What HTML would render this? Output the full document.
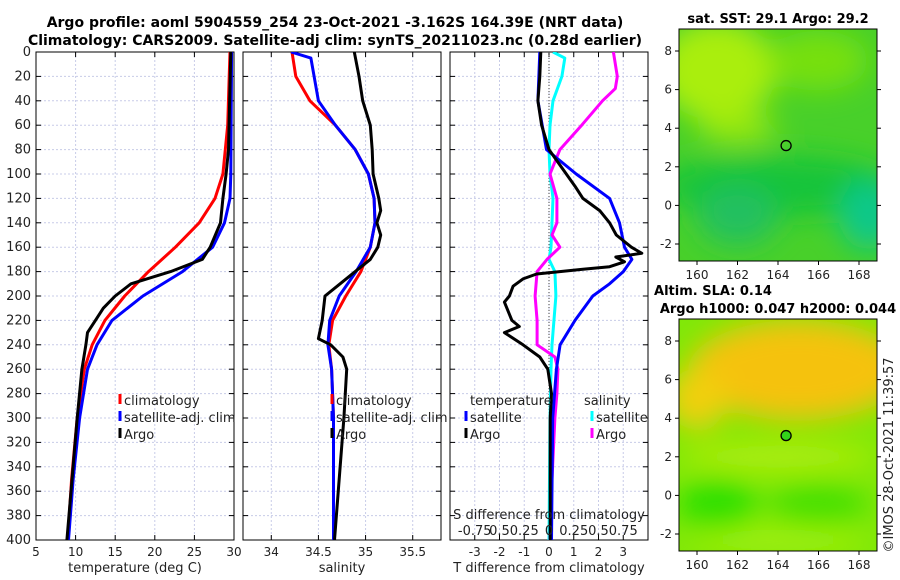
<!DOCTYPE html>
<html><head><meta charset="utf-8"><style>
body{margin:0;background:#fff;}
svg{display:block;font-family:"DejaVu Sans","Liberation Sans",sans-serif;}
</style></head><body>
<svg id="fig" width="900" height="580" viewBox="0 0 900 580">
<defs>
<filter id="blur" x="-50%" y="-50%" width="200%" height="200%"><feGaussianBlur stdDeviation="14"/></filter>
<clipPath id="c1"><rect x="36" y="52" width="198" height="488"/></clipPath>
<clipPath id="c2"><rect x="243" y="52" width="198" height="488"/></clipPath>
<clipPath id="c3"><rect x="450" y="52" width="198" height="488"/></clipPath>
<clipPath id="m1"><rect x="679" y="29" width="198" height="232"/></clipPath>
<clipPath id="m2"><rect x="679" y="319" width="198" height="232"/></clipPath>
</defs>
<rect width="900" height="580" fill="#fff"/>
<text x="335" y="27" text-anchor="middle" font-size="14" font-weight="bold">Argo profile: aoml 5904559_254 23-Oct-2021 -3.162S 164.39E (NRT data)</text>
<text x="335" y="45" text-anchor="middle" font-size="14" font-weight="bold">Climatology: CARS2009. Satellite-adj clim: synTS_20211023.nc (0.28d earlier)</text>
<g id="panels"></g>
<g id="maps"></g>
<text transform="translate(893,455) rotate(-90)" text-anchor="middle" font-size="13" fill="#222">©IMOS 28-Oct-2021 11:39:57</text>
</svg>
<script>
// depth levels (m)
const depthTicks=[0,20,40,60,80,100,120,140,160,180,200,220,240,260,280,300,320,340,360,380,400];
// temperature panel
const tTicks=[5,10,15,20,25,30];
const climTD=[0,20,60,100,120,140,160,180,200,220,240,260,300,350,400];
const climT=[29.5,29.4,29.2,28.6,27.6,25.6,22.6,19.2,16.2,13.7,12.1,11.1,10.2,9.5,9.0];
const satTD=[0,100,120,140,160,180,200,220,240,260,300,350,400];
const satT=[29.7,29.6,29.5,28.8,27.3,23.5,18.5,14.6,12.7,11.5,10.5,9.7,9.1];
const argoTD=[0,80,100,120,140,160,170,180,190,200,210,220,230,240,260,300,400];
const argoT=[29.6,29.3,29.0,28.6,28.3,27.0,26.0,22.0,17.0,15.0,13.5,12.5,11.5,11.3,10.8,10.2,8.9];
// salinity panel
const sTicks=[34,34.5,35,35.5];
const climSD=[0,20,40,60,80,100,120,140,160,180,200,220,240,260,300,400];
const climS=[34.22,34.26,34.41,34.68,34.89,35.03,35.09,35.10,35.05,34.95,34.79,34.65,34.61,34.64,34.66,34.66];
const satSD=[0,5,40,60,80,100,120,140,160,180,200,220,240,260,300,400];
const satS=[34.21,34.42,34.50,34.68,34.89,35.03,35.09,35.10,35.05,34.90,34.72,34.62,34.60,34.64,34.66,34.66];
const argoSD=[0,20,40,60,80,100,120,130,140,150,160,170,180,190,200,220,235,240,250,260,300,350,400];
const argoS=[34.88,34.93,34.97,35.05,35.07,35.08,35.14,35.16,35.12,35.16,35.13,35.05,34.89,34.73,34.57,34.54,34.50,34.63,34.76,34.80,34.77,34.72,34.67];
// difference panel
const dTTicks=[-3,-2,-1,0,1,2,3];
const dSTickLabels=["-0.75","0.5","0.25","0","0.25","0.5","0.75"];
const satDTD=[0,40,80,100,120,140,160,170,180,190,200,220,240,260,300,400];
const satDT=[-0.37,-0.45,-0.1,1.1,2.45,2.85,3.05,3.35,3.0,2.45,1.77,1.05,0.45,0.3,0.15,0.1];
const argoDTD=[0,20,40,60,80,100,110,120,130,140,150,160,165,168,172,176,178,182,186,192,200,205,215,220,225,230,240,250,260,280,300,400];
const argoDT=[-0.33,-0.37,-0.45,-0.3,0,0.7,1.05,1.37,2.05,2.45,2.72,3.33,3.75,2.7,3.05,2.45,1.37,-0.5,-1.05,-1.45,-1.6,-1.8,-1.6,-1.5,-1.2,-1.8,-1.05,-0.37,-0.05,0.1,0.05,0.05];
const satDSD=[0,5,20,40,60,80,100,120,140,160,170,180,200,240,260,300,400];
const satDS=[0.04,0.16,0.13,0.04,0.01,0,0.01,0.04,0.03,0.02,0,0.06,0.07,0.03,0.02,0.01,0];
const argoDSD=[0,20,30,40,60,80,100,120,140,150,160,170,180,200,220,240,250,260,280,300,350,400];
const argoDS=[0.65,0.69,0.67,0.54,0.33,0.11,0.01,0.08,0.08,0.03,0.11,-0.02,-0.12,-0.14,-0.12,-0.12,0.06,0.09,0.08,0.06,0.03,0.01];
// maps
const lonTicks=[160,162,164,166,168];
const latTicks=[-2,0,2,4,6,8];
const floatLon=164.4, floatLat=3.1;

const NS='http://www.w3.org/2000/svg';
const svg=document.getElementById('fig');
const P=document.getElementById('panels');
function mk(tag,attrs,parent){const e=document.createElementNS(NS,tag);for(const k in attrs)e.setAttribute(k,attrs[k]);(parent||P).appendChild(e);return e;}
const Y0=52,Y1=540;
const yD=d=>Y0+(Y1-Y0)*d/400;
function axisX(x0,x1,v0,v1){return v=>x0+(x1-x0)*(v-v0)/(v1-v0);}
const xT=axisX(36,234,5,30);
const xS=axisX(243,441,33.7,35.8);
const xDT=axisX(450,648,-4,4);
const xDS=v=>xDT(v*4);

function frame(x0,name,ticksX,fx,labels){
  const g=mk('g',{});
  
  
  depthTicks.forEach(d=>{const l=mk('line',{x1:x0,x2:x0+198,y1:yD(d),y2:yD(d),stroke:'#c8cce8','stroke-width':1,'stroke-dasharray':'2,2'},g);});
  ticksX.forEach(v=>{const l=mk('line',{x1:fx(v),x2:fx(v),y1:Y0,y2:Y1,stroke:'#c8cce8','stroke-width':1,'stroke-dasharray':'2,2'},g);});
  depthTicks.forEach(d=>{mk('line',{x1:x0,x2:x0+5,y1:yD(d),y2:yD(d),stroke:'#000'},g);mk('line',{x1:x0+198,x2:x0+193,y1:yD(d),y2:yD(d),stroke:'#000'},g);});
  ticksX.forEach((v,i)=>{mk('line',{x1:fx(v),x2:fx(v),y1:Y1,y2:Y1-5,stroke:'#000'},g);mk('line',{x1:fx(v),x2:fx(v),y1:Y0,y2:Y0+5,stroke:'#000'},g);
    const t=mk('text',{x:fx(v),y:556,'text-anchor':'middle','font-size':12,fill:'#222'},g);t.textContent=labels?labels[i]:v;
    });
  const r=mk('rect',{x:x0,y:Y0,width:198,height:Y1-Y0,fill:'none',stroke:'#000','stroke-width':1},g);
  
  return g;
}
function line(D,V,fx,color,clip,name,w){
  const pts=D.map((d,i)=>fx(V[i]).toFixed(1)+','+yD(d).toFixed(1)).join(' ');
  const p=mk('polyline',{points:pts,fill:'none',stroke:color,'stroke-width':w||3,'stroke-linejoin':'round','clip-path':'url(#'+clip+')'});
  
}
function txt(x,y,s,name,opts){const t=mk('text',Object.assign({x:x,y:y,'font-size':13,fill:'#222'},opts||{}));t.textContent=s;return t;}
function legend(x,y,color,s,name){const g=mk('g',{});
  mk('line',{x1:x,x2:x,y1:y-11,y2:y-1,stroke:color,'stroke-width':3},g);const t=mk('text',{x:x+4,y:y,'font-size':13,fill:'#222'},g);t.textContent=s;}

// panel 1
frame(36,'temperature-panel',tTicks,xT);
depthTicks.forEach(d=>txt(31,yD(d)+4,d,'y-tick-label',{'text-anchor':'end'}));
line(climTD,climT,xT,'#f00','c1','temp-climatology-line');
line(satTD,satT,xT,'#00f','c1','temp-satellite-line');
line(argoTD,argoT,xT,'#000','c1','temp-argo-line');
txt(135,572,'temperature (deg C)','x-axis-title-temperature',{'text-anchor':'middle'});
legend(120,405,'#f00','climatology','legend-climatology');
legend(120,422,'#00f','satellite-adj. clim','legend-satellite');
legend(120,439,'#000','Argo','legend-argo');

// panel 2
frame(243,'salinity-panel',sTicks,xS);
line(climSD,climS,xS,'#f00','c2','sal-climatology-line');
line(satSD,satS,xS,'#00f','c2','sal-satellite-line');
line(argoSD,argoS,xS,'#000','c2','sal-argo-line');
txt(342,572,'salinity','x-axis-title-salinity',{'text-anchor':'middle'});
legend(332,405,'#f00','climatology','legend-climatology-2');
legend(332,422,'#00f','satellite-adj. clim','legend-satellite-2');
legend(332,439,'#000','Argo','legend-argo-2');

// panel 3
frame(450,'difference-panel',dTTicks,xDT);
const z=mk('line',{x1:xDT(0),x2:xDT(0),y1:Y0,y2:Y1,stroke:'#444','stroke-width':1,'stroke-dasharray':'1,2'});

line(satDSD,satDS,xDS,'#0ff','c3','sdiff-satellite-line');
line(argoDSD,argoDS,xDS,'#f0f','c3','sdiff-argo-line');
line(satDTD,satDT,xDT,'#00f','c3','tdiff-satellite-line');
line(argoDTD,argoDT,xDT,'#000','c3','tdiff-argo-line');
txt(549,572,'T difference from climatology','x-axis-title-tdiff',{'text-anchor':'middle'});
txt(549,519,'S difference from climatology','s-axis-title',{'text-anchor':'middle'});
dTTicks.forEach((v,i)=>txt(xDT(v),535,dSTickLabels[i],'s-tick-label',{'text-anchor':'middle'}));
txt(470,405,'temperature','legend-temperature-heading');
txt(584,405,'salinity','legend-salinity-heading');
legend(466,422,'#00f','satellite','legend-t-satellite');
legend(466,439,'#000','Argo','legend-t-argo');
legend(592,422,'#0ff','satellite','legend-s-satellite');
legend(592,439,'#f0f','Argo','legend-s-argo');

// maps
const M=document.getElementById('maps');
const mx=axisX(697,859,160,168);
function drawMap(top,yLat8,clip,name,blobs,base,title,title2){
  const my=lat=>yLat8+(lat-8)*(193/10)*-1;
  const g=mk('g',{},M);
  mk('rect',{x:679,y:top,width:198,height:232,fill:base},g);
  const bg=mk('g',{'clip-path':'url(#'+clip+')'},g);
  const bl=mk('g',{filter:'url(#blur)'},bg);
  blobs.forEach(b=>mk('ellipse',{cx:mx(b[0]),cy:my(b[1]),rx:b[2],ry:b[3],fill:b[4]},bl));
  mk('rect',{x:679,y:top,width:198,height:232,fill:'none',stroke:'#000'},g);
  lonTicks.forEach(v=>{mk('line',{x1:mx(v),x2:mx(v),y1:top+232,y2:top+236,stroke:'#000'},g);
    const t=mk('text',{x:mx(v),y:top+250,'text-anchor':'middle','font-size':12,fill:'#222'},g);t.textContent=v;});
  latTicks.forEach(v=>{mk('line',{x1:877,x2:881,y1:my(v),y2:my(v),stroke:'#000'},g);mk('line',{x1:679,x2:675,y1:my(v),y2:my(v),stroke:'#000'},g);
    const t=mk('text',{x:672,y:my(v)+4,'text-anchor':'end','font-size':12,fill:'#222'},g);t.textContent=v;});
  return {g,my};
}
const a=drawMap(29,51,'m1','sst-map',[[161,7,60,50,'#aaee10'],[166,7.5,50,30,'#77e010'],[164,1,120,30,'#19c43a'],[162,-0.5,40,30,'#22c060'],[168.5,-0.5,30,35,'#10c88a'],[162,4,40,15,'#99e810']],'#48d02a');
let c=mk('circle',{cx:mx(floatLon),cy:a.my(floatLat),r:5,fill:'none',stroke:'#000','stroke-width':1.3},M);

const b=drawMap(319,341,'m2','sla-map',[[165,6.5,110,50,'#f5c20c'],[160,5,30,30,'#f2cf10'],[161,-0.5,40,25,'#2ee000'],[166,-0.5,50,20,'#44e000'],[164,-2.3,90,12,'#a5f010'],[164,2,100,12,'#b8ee10']],'#80e808');
c=mk('circle',{cx:mx(floatLon),cy:b.my(floatLat),r:5,fill:'#33d41a',stroke:'#000','stroke-width':1.3},M);

function mtxt(x,y,s,name){const t=mk('text',{x:x,y:y,'text-anchor':'middle','font-size':13,'font-weight':'bold'},M);t.textContent=s;}
mtxt(778,23,'sat. SST: 29.1 Argo: 29.2','sst-map-title');
mtxt(713,295,'Altim. SLA: 0.14','sla-title');
mtxt(778,313,'Argo h1000: 0.047 h2000: 0.044','sla-map-title');
</script>
</body></html>
